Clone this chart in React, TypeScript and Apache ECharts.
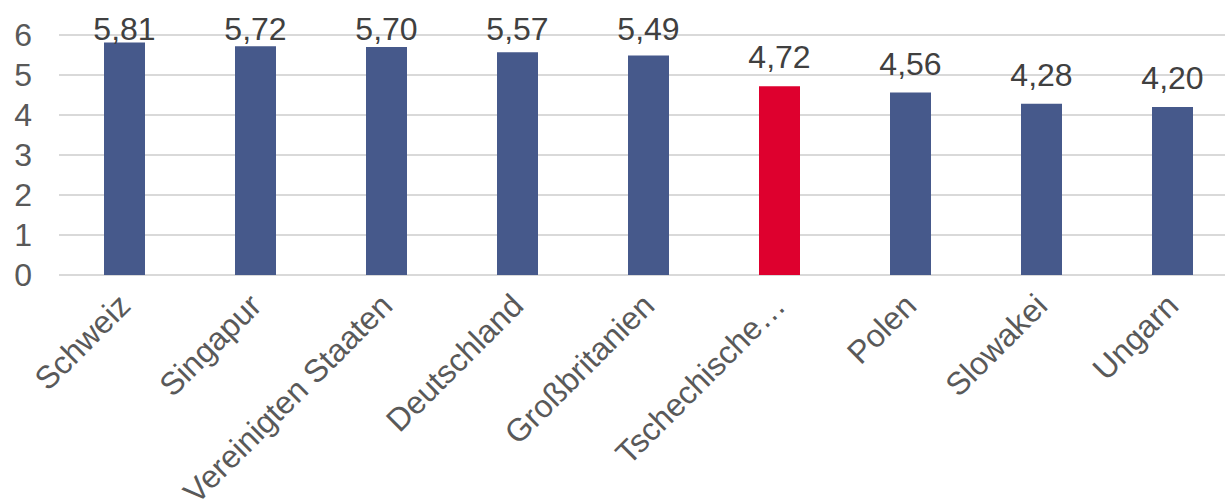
import React, { useEffect, useRef } from "react";
import * as echarts from "echarts";

const categories = [
  "Schweiz",
  "Singapur",
  "Vereinigten Staaten",
  "Deutschland",
  "Großbritanien",
  "Tschechische…",
  "Polen",
  "Slowakei",
  "Ungarn",
];
const values = [5.81, 5.72, 5.7, 5.57, 5.49, 4.72, 4.56, 4.28, 4.2];
const highlightIndex = 5;
const yTicks = [0, 1, 2, 3, 4, 5, 6];

const BLUE = "#46598B";
const RED = "#DE002E";
const FONT = "'Liberation Sans', Arial, sans-serif";

export default function App() {
  const ref = useRef<HTMLDivElement>(null);
  useEffect(() => {
    if (!ref.current) return;
    const chart = echarts.init(ref.current, undefined, { renderer: "svg" });
    chart.setOption({
      animation: false,
      backgroundColor: "#ffffff",
      grid: {
        left: 59,
        top: 35,
        bottom: 228,
        width: 1179,
        containLabel: false,
        outerBoundsMode: "none",
      },
      xAxis: {
        type: "category",
        data: categories,
        axisLine: { show: false },
        axisTick: { show: false },
        axisLabel: {
          interval: 0,
          rotate: 45,
          margin: 25,
          fontSize: 32,
          fontFamily: FONT,
          color: "#595959",
        },
      },
      yAxis: {
        type: "value",
        min: yTicks[0],
        max: yTicks[yTicks.length - 1],
        interval: 1,
        axisLine: { show: false },
        axisTick: { show: false },
        axisLabel: {
          fontSize: 32,
          fontFamily: FONT,
          color: "#595959",
          margin: 27,
        },
        splitLine: { lineStyle: { color: "#D9D9D9", width: 2 } },
      },
      series: [
        {
          type: "bar",
          barWidth: 41,
          data: values.map((v, i) => ({
            value: v,
            itemStyle: { color: i === highlightIndex ? RED : BLUE },
          })),
          label: {
            show: true,
            position: "top",
            distance: 13,
            fontSize: 32,
            fontFamily: FONT,
            color: "#404040",
            formatter: (p: any) => p.value.toFixed(2).replace(".", ","),
          },
          labelLayout: (p: any) => {
            const minY = 13;
            if (p.labelRect.y < minY) {
              return { dy: minY - p.labelRect.y };
            }
            return {};
          },
        },
      ],
    });
    return () => chart.dispose();
  }, []);
  return (
    <div
      ref={ref}
      style={{ position: "absolute", left: 0, top: 0, width: 1225, height: 503 }}
    />
  );
}
